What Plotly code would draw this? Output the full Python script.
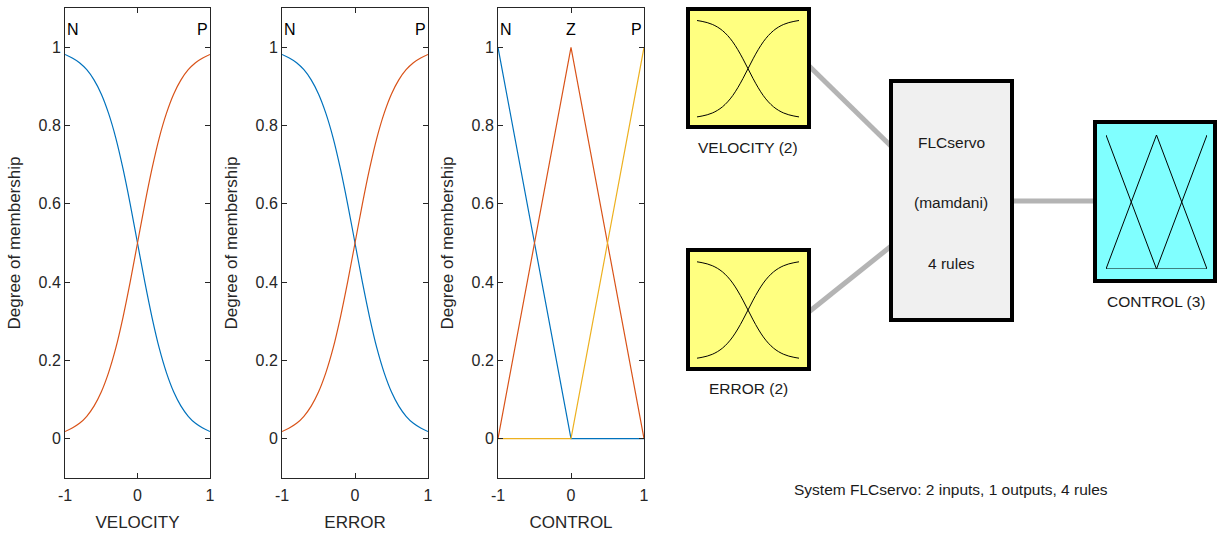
import plotly.graph_objects as go

W, H = 1218, 536

# Membership functions of the FLCservo fuzzy system
sig_x = [-1.0, -0.9, -0.8, -0.7, -0.6, -0.5, -0.4, -0.3, -0.2, -0.1, 0.0,
         0.1, 0.2, 0.3, 0.4, 0.5, 0.6, 0.7, 0.8, 0.9, 1.0]
velocity_n = [0.982, 0.973, 0.961, 0.943, 0.917, 0.881, 0.832, 0.769, 0.690, 0.599, 0.500,
              0.401, 0.310, 0.231, 0.168, 0.119, 0.083, 0.057, 0.039, 0.027, 0.018]
velocity_p = [0.018, 0.027, 0.039, 0.057, 0.083, 0.119, 0.168, 0.231, 0.310, 0.401, 0.500,
              0.599, 0.690, 0.769, 0.832, 0.881, 0.917, 0.943, 0.961, 0.973, 0.982]
error_n = [0.982, 0.973, 0.961, 0.943, 0.917, 0.881, 0.832, 0.769, 0.690, 0.599, 0.500,
           0.401, 0.310, 0.231, 0.168, 0.119, 0.083, 0.057, 0.039, 0.027, 0.018]
error_p = [0.018, 0.027, 0.039, 0.057, 0.083, 0.119, 0.168, 0.231, 0.310, 0.401, 0.500,
           0.599, 0.690, 0.769, 0.832, 0.881, 0.917, 0.943, 0.961, 0.973, 0.982]
control_x = [-1.0, 0.0, 1.0]
control_n = [1.0, 0.0, 0.0]
control_z = [0.0, 1.0, 0.0]
control_p = [0.0, 0.0, 1.0]

x_ticks = [-1, 0, 1]
x_tick_labels = ["-1", "0", "1"]
y_ticks = [0, 0.2, 0.4, 0.6, 0.8, 1]
y_tick_labels = ["0", "0.2", "0.4", "0.6", "0.8", "1"]

BLUE, ORANGE, YELLOW = "#0072BD", "#D95319", "#EDB120"
AXC = "#262626"
FONT = "Liberation Sans, Arial, Helvetica, sans-serif"


def px(x):
    return x / W


def py(y):
    return 1 - y / H


fig = go.Figure()


def curve(xs, ys, xa, ya, color, width=1.2, spline=True):
    fig.add_trace(go.Scatter(
        x=xs, y=ys, xaxis=xa, yaxis=ya, mode="lines",
        line=dict(color=color, width=width, shape="spline" if spline else "linear"),
        hoverinfo="skip", showlegend=False))


# main plots
curve(sig_x, velocity_n, "x", "y", BLUE)
curve(sig_x, velocity_p, "x", "y", ORANGE)
curve(sig_x, error_n, "x2", "y2", BLUE)
curve(sig_x, error_p, "x2", "y2", ORANGE)
curve(control_x, control_n, "x3", "y3", BLUE, spline=False)
curve(control_x, control_z, "x3", "y3", ORANGE, spline=False)
curve(control_x, control_p, "x3", "y3", YELLOW, spline=False)

# icons in the system diagram
curve(sig_x, velocity_n, "x4", "y4", "black", 1)
curve(sig_x, velocity_p, "x4", "y4", "black", 1)
curve(sig_x, error_n, "x5", "y5", "black", 1)
curve(sig_x, error_p, "x5", "y5", "black", 1)
curve(control_x, control_n, "x6", "y6", "black", 1, spline=False)
curve(control_x, control_z, "x6", "y6", "black", 1, spline=False)
curve(control_x, control_p, "x6", "y6", "black", 1, spline=False)

layout = dict(
    width=W, height=H, autosize=False,
    margin=dict(l=0, r=0, t=0, b=0),
    paper_bgcolor="white", plot_bgcolor="rgba(0,0,0,0)",
    font=dict(family=FONT, color=AXC),
    showlegend=False,
)

y_dom = [py(477.7), py(8.3)]
panels = [(65, 210, "VELOCITY"), (282, 428, "ERROR"), (498, 644, "CONTROL")]
for i, (x0, x1, name) in enumerate(panels, start=1):
    sx = "" if i == 1 else str(i)
    layout["xaxis" + sx] = dict(
        domain=[px(x0), px(x1)], range=[-1, 1], anchor="y" + sx,
        tickvals=x_ticks, ticktext=x_tick_labels,
        showline=True, linecolor=AXC, linewidth=1, mirror="ticks",
        ticks="inside", ticklen=5, tickcolor=AXC, tickwidth=1,
        ticklabelstandoff=3,
        showgrid=False, zeroline=False, automargin=False,
        tickfont=dict(family=FONT, size=16, color=AXC),
        title=dict(text=name, font=dict(family=FONT, size=17, color=AXC), standoff=13),
        fixedrange=True)
    layout["yaxis" + sx] = dict(
        domain=y_dom, range=[-0.1, 1.1], anchor="x" + sx,
        tickvals=y_ticks, ticktext=y_tick_labels,
        showline=True, linecolor=AXC, linewidth=1, mirror="ticks",
        ticks="inside", ticklen=5, tickcolor=AXC, tickwidth=1,
        showgrid=False, zeroline=False, automargin=False,
        tickfont=dict(family=FONT, size=16, color=AXC),
        title=dict(text="Degree of membership", font=dict(family=FONT, size=17, color=AXC), standoff=13),
        fixedrange=True)

# icon axes (hidden)
icons = [
    ("4", (697, 799), (118.7, 18.7)),
    ("5", (697, 799), (360, 260)),
    ("6", (1106, 1207), (269, 135)),
]
for s, (x0, x1), (yb, yt) in icons:
    layout["xaxis" + s] = dict(domain=[px(x0), px(x1)], range=[-1, 1], visible=False,
                               anchor="y" + s, fixedrange=True)
    layout["yaxis" + s] = dict(domain=[py(yb), py(yt)], range=[0, 1], visible=False,
                               anchor="x" + s, fixedrange=True)

fig.update_layout(**layout)

# membership function names
anns = []
mf_labels = [("x", "y", [(-1, "N", "left"), (1, "P", "right")]),
             ("x2", "y2", [(-1, "N", "left"), (1, "P", "right")]),
             ("x3", "y3", [(-1, "N", "left"), (0, "Z", "center"), (1, "P", "right")])]
for xr, yr, items in mf_labels:
    for xv, txt, anc in items:
        anns.append(dict(x=xv, y=1.045, xref=xr, yref=yr, text=txt, showarrow=False,
                         xanchor=anc, yanchor="middle",
                         font=dict(family=FONT, size=16, color="black")))

# system diagram: connectors and blocks
shapes = []
GRAY = "#b4b4b4"
for (x0, y0, x1, y1) in [(805, 62, 895, 150), (805, 315, 895, 243), (1010, 201, 1098, 201)]:
    shapes.append(dict(type="line", xref="paper", yref="paper",
                       x0=px(x0), y0=py(y0), x1=px(x1), y1=py(y1),
                       line=dict(color=GRAY, width=5), layer="below"))

blocks = [
    (686, 7, 811, 129, "#ffff80"),
    (686, 248, 811, 371, "#ffff80"),
    (889, 79, 1014, 322, "#f0f0f0"),
    (1093, 120, 1217, 283, "#80ffff"),
]
for x0, y0, x1, y1, fill in blocks:
    shapes.append(dict(type="rect", xref="paper", yref="paper",
                       x0=px(x0 + 2), y0=py(y1 - 2), x1=px(x1 - 2), y1=py(y0 + 2),
                       fillcolor=fill, line=dict(color="black", width=4), layer="below"))

diagram_text = [
    (748, 147, "VELOCITY (2)"),
    (748, 388, "ERROR (2)"),
    (951, 142, "FLCservo"),
    (951, 202, "(mamdani)"),
    (951, 263, "4 rules"),
    (1156, 301, "CONTROL (3)"),
    (951, 489, "System FLCservo: 2 inputs, 1 outputs, 4 rules"),
]
for x, y, txt in diagram_text:
    anns.append(dict(x=px(x), y=py(y), xref="paper", yref="paper", text=txt, showarrow=False,
                     xanchor="center", yanchor="middle",
                     font=dict(family=FONT, size=15.5, color="#1a1a1a")))

fig.update_layout(annotations=anns, shapes=shapes)
fig.write_html("out.html")
